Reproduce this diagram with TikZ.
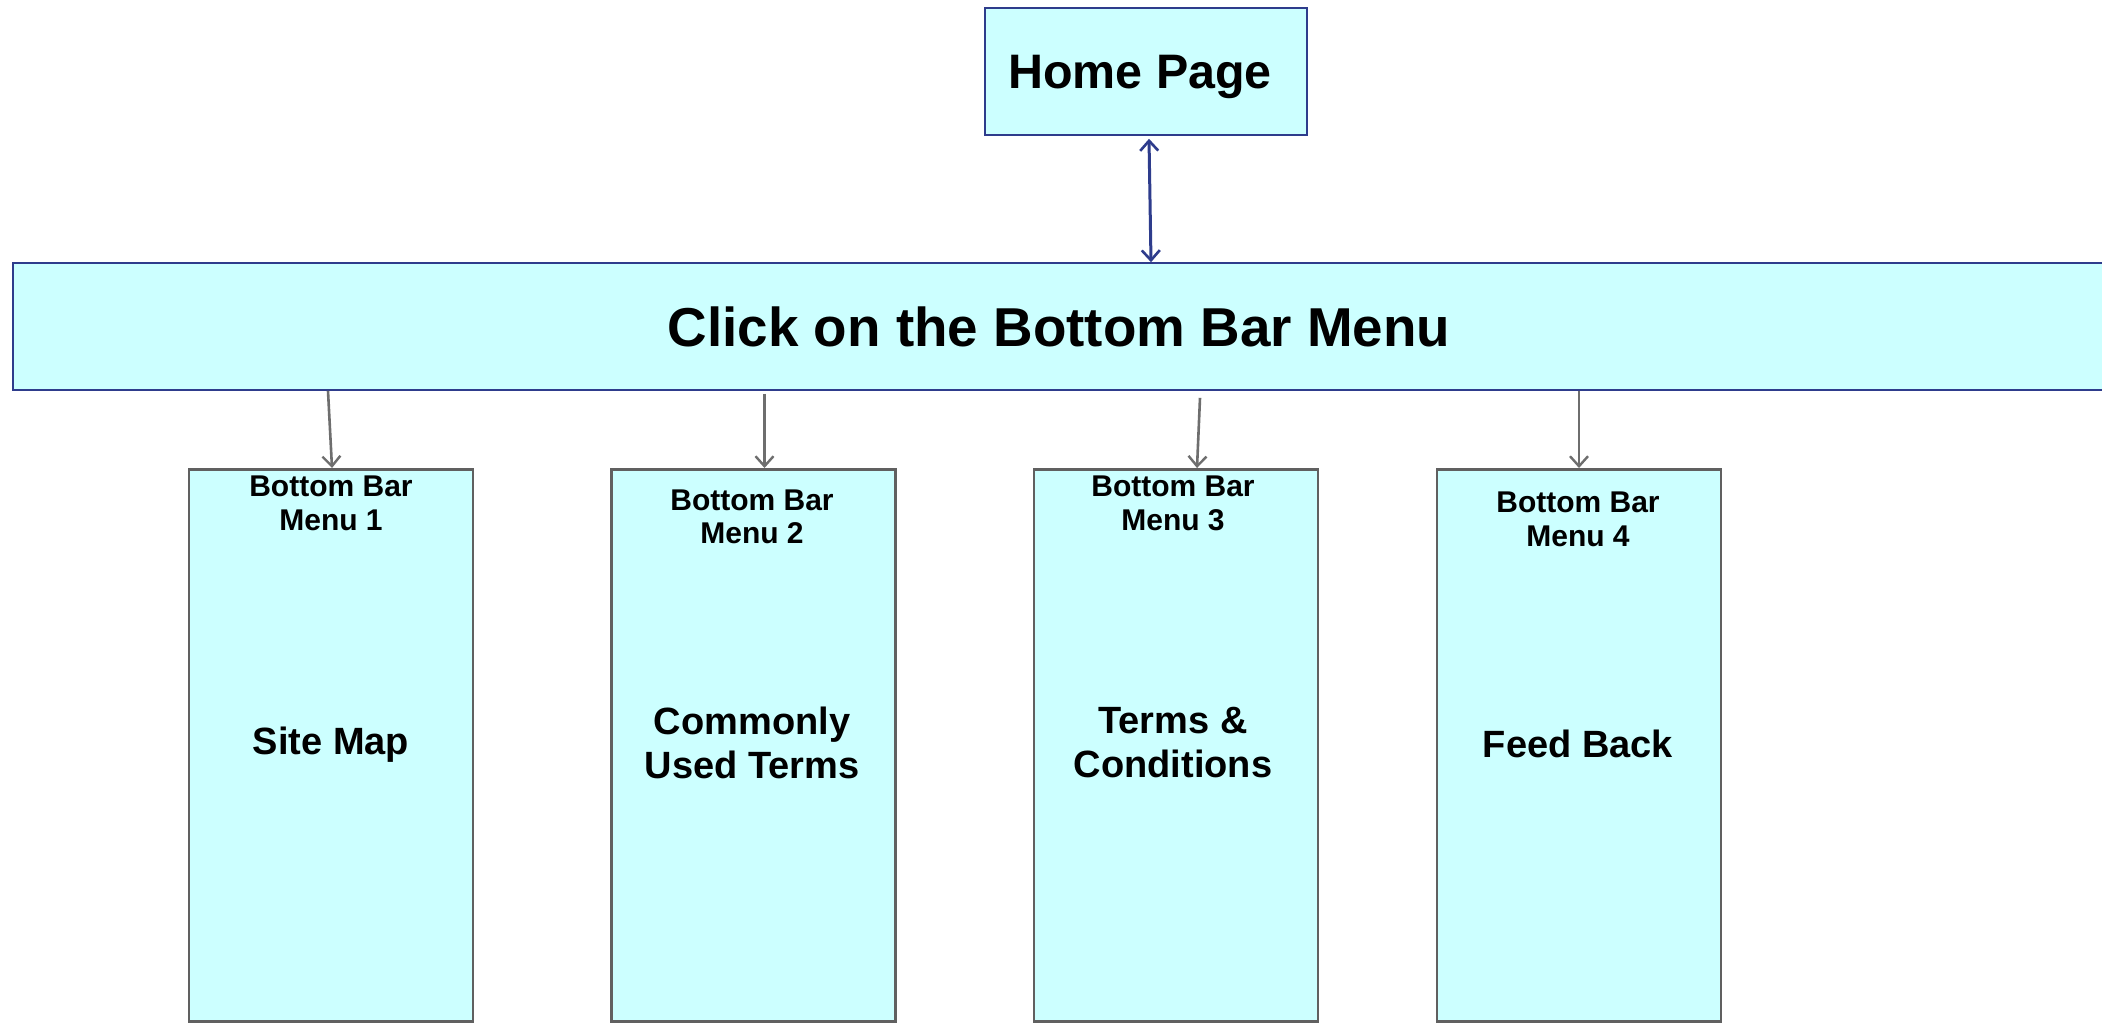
\documentclass[tikz,border=0pt]{standalone}
\usepackage{fontspec}
\setmainfont{Liberation Sans}
\usetikzlibrary{arrows.meta}
\definecolor{boxfill}{HTML}{CCFFFF}
\definecolor{navy}{HTML}{2E3C8C}
\definecolor{boxline}{HTML}{606060}
\definecolor{arrowgray}{HTML}{6E6E6E}
\tikzset{
  topbox/.style={draw=navy, line width=0.8pt, fill=boxfill, inner sep=0pt},
  menubox/.style={draw=boxline, line width=1.4pt, fill=boxfill, minimum width=142pt, minimum height=276pt, inner sep=0pt, anchor=north},
  menutitle/.style={font=\fontsize{15}{16.8}\selectfont\bfseries, align=center, inner sep=0pt},
  menutext/.style={font=\fontsize{19}{22}\selectfont\bfseries, align=center, inner sep=0pt},
  ga/.style={draw=arrowgray, line width=1.3pt, -{Straight Barb[length=5pt,width=9pt,line width=1.2pt]}},
  na/.style={draw=navy, line width=1.5pt, {Straight Barb[length=5pt,width=9pt,line width=1.3pt]}-{Straight Barb[length=5pt,width=9pt,line width=1.3pt]}}
}
\begin{document}
\begin{tikzpicture}[x=1pt,y=1pt]
\useasboundingbox (0,0) rectangle (1051,-511);
\fill[white] (0,0) rectangle (1051,-511);
% top nodes
\node[topbox, minimum width=161pt, minimum height=63.5pt] (home) at (573,-35.75) {};
\node[font=\fontsize{24.2}{27}\selectfont\bfseries, inner sep=0pt] (homet) at (570,-38.3) {Home Page};
\node[topbox, minimum width=1046pt, minimum height=63.5pt, font=\fontsize{27.4}{30}\selectfont\bfseries] (bar) at (529.5,-163.25) {Click on the Bottom Bar Menu};
% menu boxes
\node[menubox] (m1) at (165.5,-234) {};
\node[menubox] (m2) at (376.75,-234) {};
\node[menubox] (m3) at (588,-234) {};
\node[menubox] (m4) at (789.5,-234) {};
% titles
\node[menutitle] (t1) at (165.5,-251.75) {Bottom Bar\\Menu 1};
\node[menutitle] (t2) at (376,-258.5) {Bottom Bar\\Menu 2};
\node[menutitle] (t3) at (586.5,-251.75) {Bottom Bar\\Menu 3};
\node[menutitle] (t4) at (789,-259.75) {Bottom Bar\\Menu 4};
% contents
\node[menutext] (c1) at (165.5,-372.5) {Site Map};
\node[menutext] (c2) at (376,-371.5) {Commonly\\Used Terms};
\node[menutext] (c3) at (586.5,-371.5) {Terms \&\\Conditions};
\node[menutext] (c4) at (789,-372) {Feed Back};
% connectors
\draw[na] ([xshift=1.5pt,yshift=-1.5pt]home.south) -- ([xshift=2.5pt]home.south |- bar.north);
\draw[ga] ([xshift=-1.5pt]m1.north |- bar.south) -- ([xshift=0.5pt]m1.north);
\draw[ga] ([xshift=5.5pt,yshift=-1.5pt]m2.north |- bar.south) -- ([xshift=5.5pt]m2.north);
\draw[ga] ([xshift=12pt,yshift=-3.5pt]m3.north |- bar.south) -- ([xshift=10.5pt]m3.north);
\draw[ga] ([xshift=0pt]m4.north |- bar.south) -- (m4.north);
\end{tikzpicture}
\end{document}
